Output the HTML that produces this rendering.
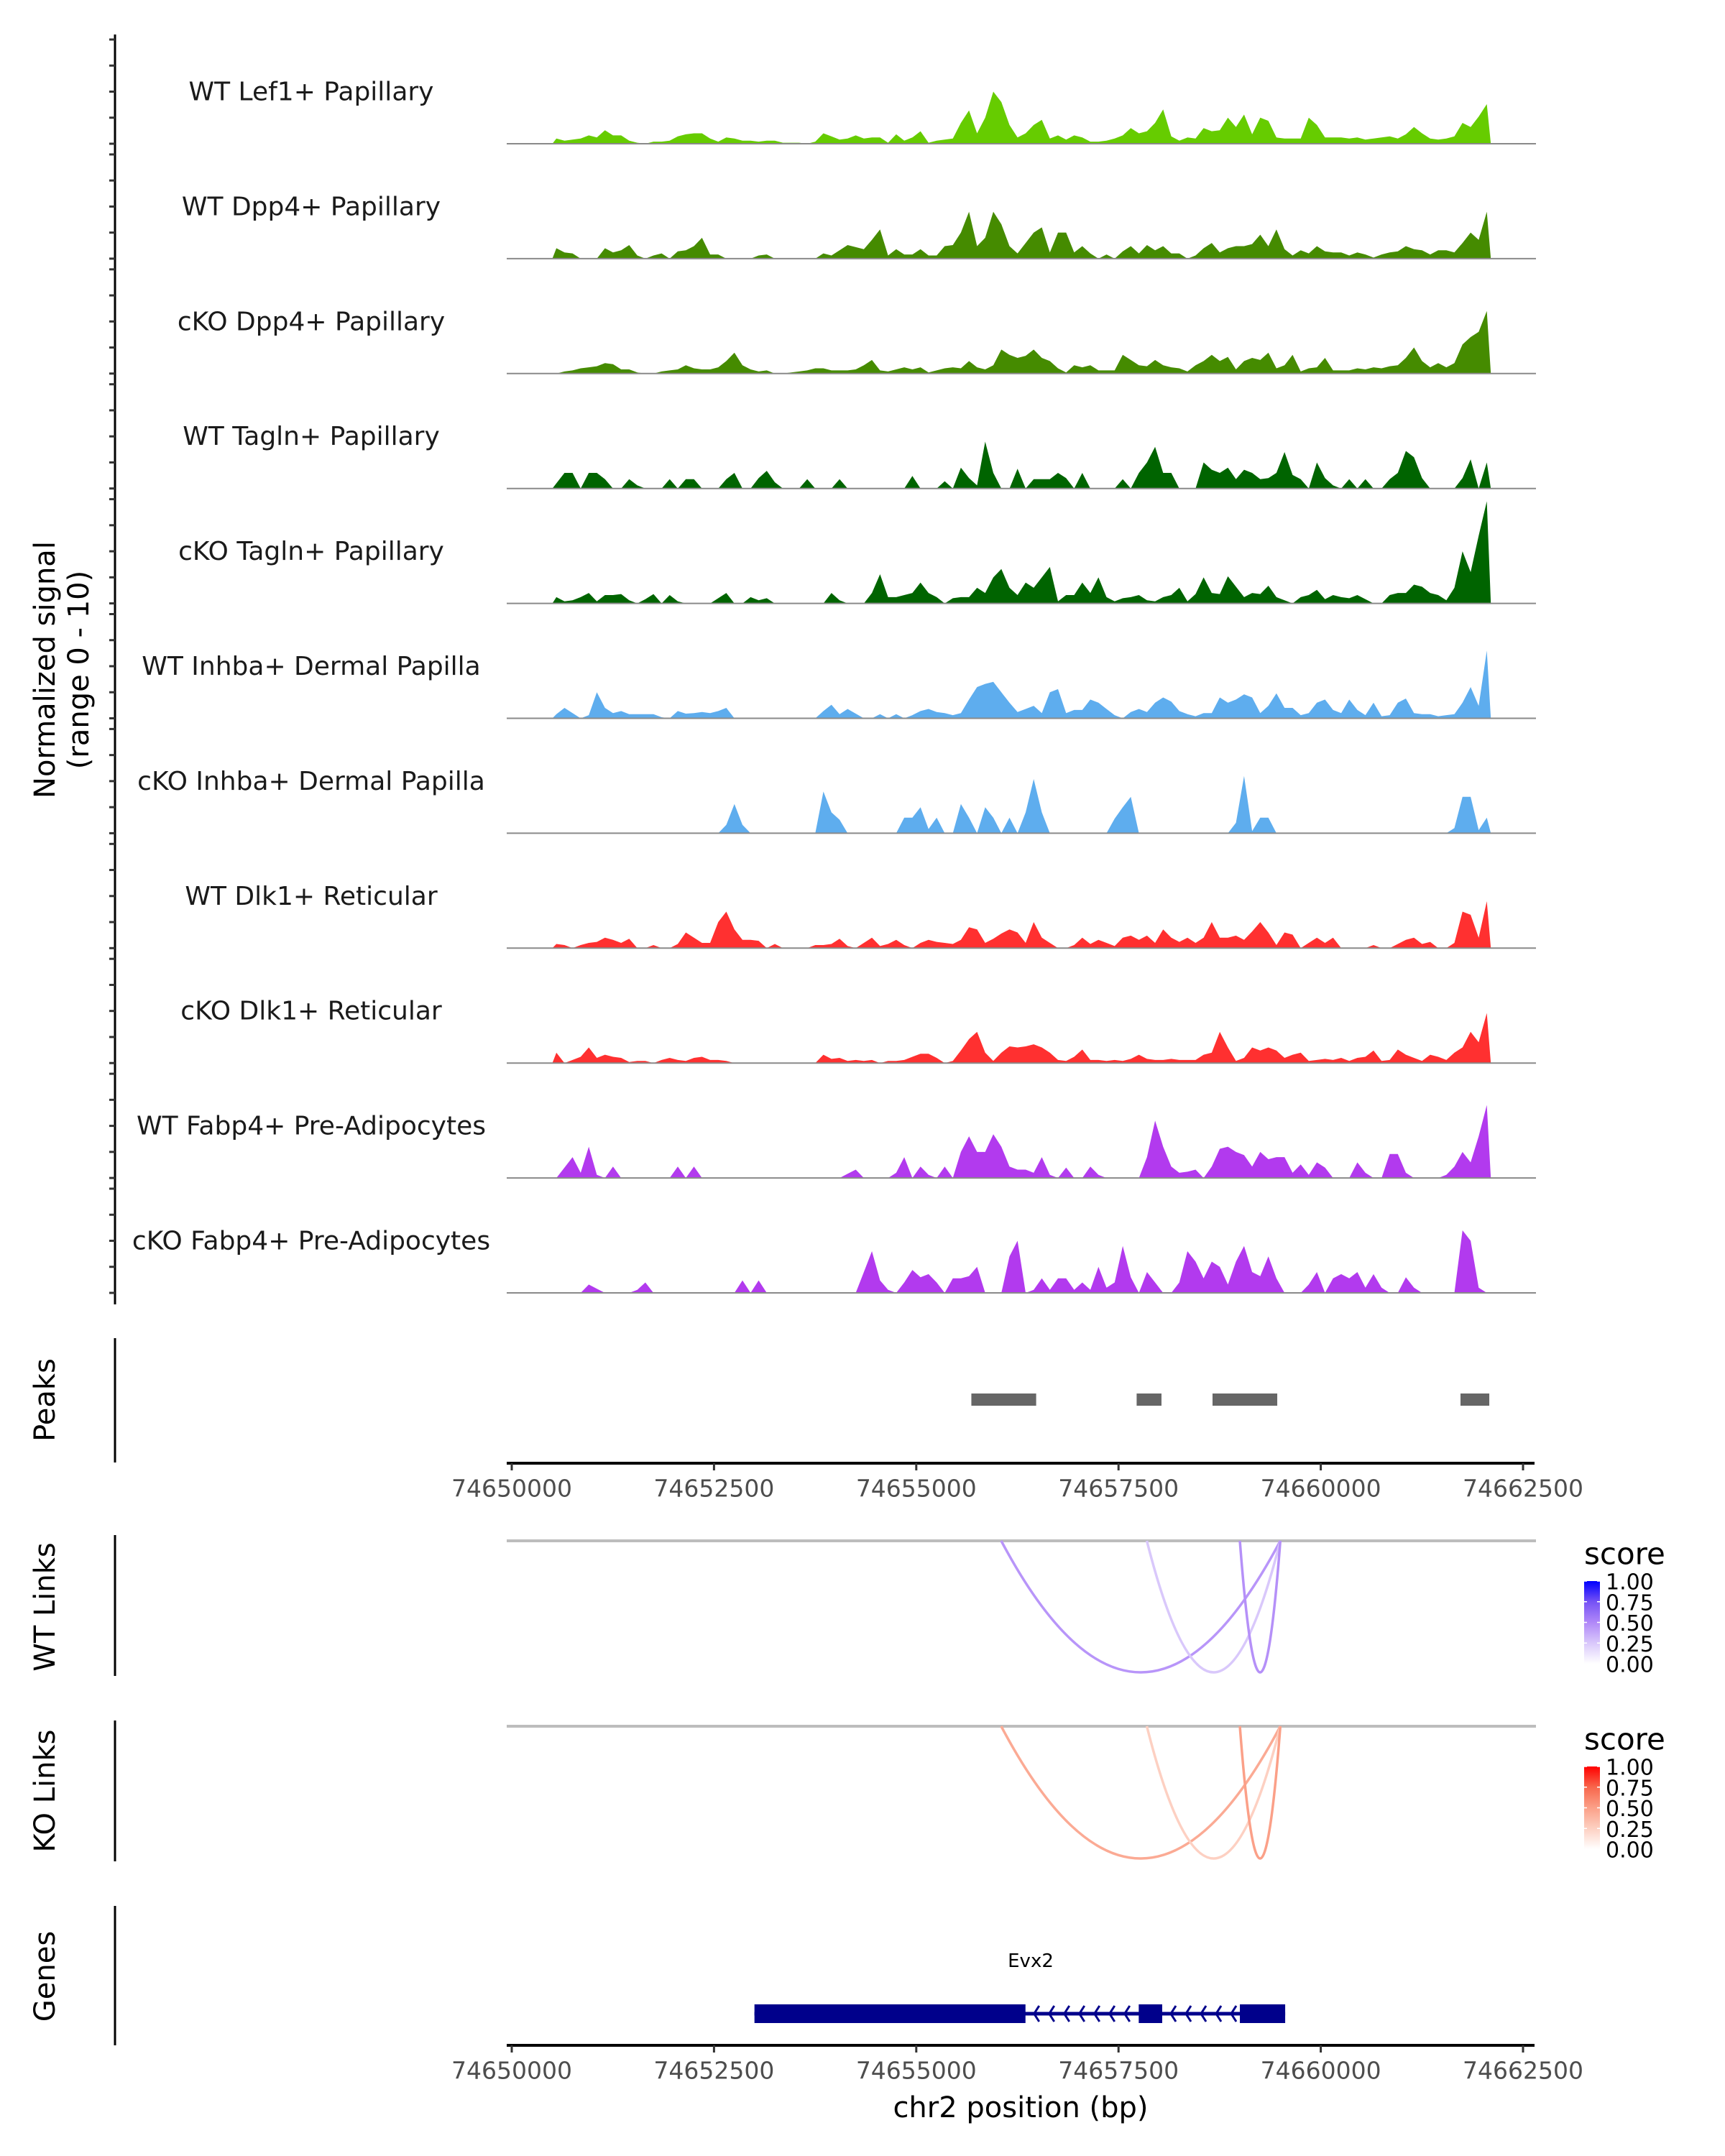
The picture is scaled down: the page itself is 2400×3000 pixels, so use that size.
<!DOCTYPE html>
<html><head><meta charset="utf-8"><style>
html,body{margin:0;padding:0;background:#fff;}
svg{display:block;font-family:"DejaVu Sans","Liberation Sans",sans-serif;}
</style></head><body>
<svg id="chart" width="2400" height="3000" viewBox="0 0 2400 3000" xmlns="http://www.w3.org/2000/svg">
<g id="tracks"></g>
<g id="axes"></g>
<g id="peaks"></g>
<g id="links"></g>
<g id="genes"></g>
<text transform="translate(63,932) rotate(-90)" text-anchor="middle" font-size="40" fill="#000" dominant-baseline="central">Normalized signal</text>
<text transform="translate(110,932) rotate(-90)" text-anchor="middle" font-size="40" fill="#000" dominant-baseline="central">(range 0 - 10)</text>
<text transform="translate(63,1948) rotate(-90)" text-anchor="middle" font-size="40" dominant-baseline="central">Peaks</text>
<text transform="translate(63,2236) rotate(-90)" text-anchor="middle" font-size="40" dominant-baseline="central">WT Links</text>
<text transform="translate(63,2492) rotate(-90)" text-anchor="middle" font-size="40" dominant-baseline="central">KO Links</text>
<text transform="translate(63,2750) rotate(-90)" text-anchor="middle" font-size="40" dominant-baseline="central">Genes</text>
<text x="1420" y="2933" text-anchor="middle" font-size="40" dominant-baseline="central">chr2 position (bp)</text>
</svg>
<script>
const NS = "http://www.w3.org/2000/svg";
const trackNames = ["WT Lef1+ Papillary","WT Dpp4+ Papillary","cKO Dpp4+ Papillary","WT Tagln+ Papillary","cKO Tagln+ Papillary","WT Inhba+ Dermal Papilla","cKO Inhba+ Dermal Papilla","WT Dlk1+ Reticular","cKO Dlk1+ Reticular","WT Fabp4+ Pre-Adipocytes","cKO Fabp4+ Pre-Adipocytes"];
const trackColors = ["#66CC00","#458B00","#458B00","#006400","#006400","#5EADEE","#5EADEE","#FF3030","#FF3030","#B23AEE","#B23AEE"];
const binStart = 74650502;
const binSize = 100;
const lef1WT = [.5,.3,.4,.5,.8,.6,1.3,.8,.8,.3, .1,0,.2,.2,.3,.7,.9,1,1,.5, .2,.6,.5,.3,.3,.2,.3,.3,.1,.1, .1,0,.2,1.0,.7,.4,.5,.8,.5,.6, .6,.1,.9,.3,.6,1.2,.1,.3,.4,.5, 2.0,3.2,1.0,2.5,5.0,4.0,1.8,.6,1.0,1.8, 2.3,.5,.8,.4,.8,.6,.2,.2,.3,.5, .8,1.5,1.0,1.2,2.0,3.3,.7,.3,.6,.5, 1.5,1.2,1.3,2.5,1.6,2.8,.9,2.5,2.2,.6, .5,.5,.5,2.5,1.8,.6,.6,.6,.5,.6, .4,.5,.6,.7,.5,.9,1.6,1.0,.5,.4, .5,.7,2.0,1.6,2.6,3.8];
const dpp4WT = [1.0,.6,.5,0,0,0,1.0,.6,.8,1.3, .3,0,.3,.5,0,.7,.8,1.2,2.0,.4, .4,0,0,0,0,.3,.4,0,0,0, 0,0,0,.5,.3,.8,1.3,1.1,.9,1.8, 2.8,.3,.9,.4,.4,.9,.3,.3,1.2,1.3, 2.5,4.5,1.2,2.0,4.5,3.3,1.2,.5,1.5,2.5, 3.0,.6,2.5,2.5,.6,1.2,.5,0,.4,0, .7,1.2,.5,1.3,.8,1.2,.5,.5,0,.3, 1.0,1.5,.6,1.0,1.2,1.2,1.4,2.3,1.2,2.8, .9,.3,.8,.5,1.2,.7,.6,.6,.3,.6, .4,.1,.4,.6,.7,1.2,.9,.8,.4,.8, .8,.6,1.5,2.5,1.8,4.5];
const dpp4KO = [0,.2,.3,.5,.6,.7,1.0,.9,.4,.4, .1,0,0,.2,.3,.4,.8,.5,.4,.4, .6,1.2,2.0,.8,.4,.2,.3,0,0,.1, .2,.3,.5,.5,.3,.3,.3,.4,.8,1.3, .3,.2,.4,.6,.4,.6,.1,.3,.5,.6, .5,1.2,.6,.4,.8,2.3,1.8,1.5,1.7,2.3, 1.5,1.2,.5,.1,.8,.6,.8,.3,.3,.3, 1.8,1.3,.8,.7,1.3,.8,.6,.5,.2,.8, 1.2,1.8,1.2,1.6,.4,1.2,1.5,1.3,2.0,.5, .8,1.8,.2,.5,.6,1.5,.3,.3,.3,.5, .4,.6,.5,.7,.8,1.5,2.5,1.2,.6,1.0, .6,1.0,2.8,3.5,4.0,6.0];
const taglnWT = [.5,1.5,1.5,0,1.5,1.5,.9,0,0,.9, .3,0,0,0,.9,0,.9,.9,0,0, 0,.9,1.5,0,0,1.0,1.7,.6,0,0, 0,.9,0,0,0,.9,0,0,0,0, 0,0,0,0,1.2,0,0,0,.7,0, 2.0,1.0,.3,4.5,1.5,0,0,1.9,0,.9, .9,.9,1.5,1.0,0,1.5,0,0,0,0, .9,0,1.5,2.5,4.0,1.5,1.5,0,0,0, 2.5,1.8,1.5,2.0,.9,1.8,1.5,.9,1.0,1.5, 3.5,1.3,.9,0,2.5,1.0,.3,0,.9,0, .9,0,0,.9,1.5,3.6,3.0,1.0,0,0, 0,0,1.0,2.8,0,2.5];
const taglnKO = [.6,.2,.3,.6,1.0,.2,.8,.8,.9,.3, 0,.4,.9,0,.8,.2,0,0,0,0, .5,1.0,0,0,.6,.3,.5,0,0,0, 0,0,0,0,1.0,.3,0,0,0,1.0, 2.8,.6,.6,.8,1.0,2.0,1.0,.6,0,.5, .6,.6,1.5,1.0,2.5,3.3,1.5,.8,2.0,1.5, 2.5,3.5,.2,.8,.8,2.0,1.0,2.5,.6,.2, .5,.6,.8,.3,.2,.6,.8,1.5,.2,.9, 2.5,1.0,.9,2.6,1.6,.6,1.0,.9,1.7,.6, .3,0,.6,.8,1.3,.4,.8,.6,.5,.8, .4,0,0,.8,1.0,1.0,1.8,1.6,1.0,.8, .3,1.5,5.0,3.0,6.5,9.8];
const inhbaWT = [.4,1.0,.5,0,.3,2.5,1.0,.5,.7,.4, .4,.4,.4,.1,0,.7,.45,.5,.6,.5, .7,1.0,0,0,0,0,0,0,0,0, 0,0,0,.7,1.3,.4,.9,.45,0,0, .4,0,.4,0,.3,.7,.9,.6,.5,.3, .5,1.8,3.0,3.3,3.5,2.5,1.5,.6,.9,1.2, .5,2.5,2.8,.5,.8,.8,1.8,1.5,.9,.3, 0,.6,.9,.6,1.5,2.0,1.6,.7,.4,.2, .5,.5,2.0,1.5,1.8,2.3,2.0,.5,1.2,2.4, 1.0,1.0,.3,.5,1.5,1.8,.8,.5,1.8,.8, .3,1.5,.2,.3,1.5,1.9,.5,.4,.4,.2, .3,.4,1.5,3.0,1.2,6.5];
const inhbaKO = [0,0,0,0,0,0,0,0,0,0, 0,0,0,0,0,0,0,0,0,0, 0,.8,2.8,.8,0,0,0,0,0,0, 0,0,0,4.0,2.0,1.3,0,0,0,0, 0,0,0,1.5,1.5,2.5,.4,1.5,0,0, 2.8,1.5,0,2.5,1.5,0,1.5,0,2.0,5.2, 2.0,0,0,0,0,0,0,0,0,1.4, 2.5,3.5,0,0,0,0,0,0,0,0, 0,0,0,0,1.0,5.5,.2,1.5,1.5,0, 0,0,0,0,0,0,0,0,0,0, 0,0,0,0,0,0,0,0,0,0, 0,.5,3.5,3.5,.3,1.5];
const dlk1WT = [.4,.3,0,.3,.5,.6,1.0,.8,.5,.9, 0,0,.3,0,0,.4,1.5,1.0,.5,.5, 2.5,3.5,1.8,.8,.8,.7,0,.4,0,0, 0,0,.3,.3,.4,.9,.2,0,.5,1.0, .2,.4,.8,.3,0,.5,.8,.6,.5,.4, .8,2.0,1.8,.5,.9,1.4,1.8,1.5,.5,2.5, 1.0,.5,0,0,.3,1.0,.4,.8,.5,.2, 1.0,1.2,.8,1.2,.5,1.8,1.0,.6,1.0,.5, 1.0,2.5,1.0,1.0,1.2,.8,1.6,2.5,1.5,.3, 1.5,1.3,0,.5,1.0,.5,1.0,0,0,0, 0,.3,0,0,.4,.8,1.0,.4,.6,0, 0,.5,3.5,3.2,1.0,4.5];
const dlk1KO = [1.0,0,.3,.6,1.5,.5,.8,.6,.5,.1, .2,.2,0,.3,.5,.3,.2,.5,.6,.3, .3,.2,0,0,0,0,0,0,0,0, 0,0,0,.8,.4,.5,.2,.3,.2,.3, 0,.2,.2,.3,.6,.9,.9,.5,0,.2, 1.2,2.3,3.0,1.0,.2,1.0,1.6,1.5,1.6,1.8, 1.5,1.0,.3,.2,.6,1.3,.3,.3,.2,.3, .2,.4,.8,.4,.3,.3,.4,.3,.3,.3, .8,1.0,3.0,1.5,.2,.5,1.5,1.2,1.5,1.2, .5,.8,1.0,.2,.3,.4,.3,.5,.2,.5, .6,1.2,.2,.3,1.3,.8,.5,.2,.8,.6, .3,1.0,1.5,3.0,2.0,4.8];
const fabp4WT = [0,1.0,2.0,.5,3.0,.3,0,1.1,0,0, 0,0,0,0,0,1.1,0,1.1,0,0, 0,0,0,0,0,0,0,0,0,0, 0,0,0,0,0,0,.4,.8,0,0, 0,0,.5,2.0,0,1.1,.3,0,1.1,0, 2.5,4.0,2.5,2.5,4.2,3.0,1.1,.8,.8,.5, 2.0,.3,0,1.0,0,0,1.1,.3,0,0, 0,0,0,2.0,5.5,3.0,1.1,.5,.6,.8, 0,1.1,2.8,3.0,2.5,2.2,1.1,2.5,1.8,2.0, 2.0,.5,1.3,.3,1.5,1.0,0,0,0,1.5, .5,0,0,2.3,2.3,.5,0,0,0,0, .3,1.1,2.5,1.5,4.0,7.0];
const fabp4KO = [0,0,0,0,.8,.4,0,0,0,0, .3,1.0,0,0,0,0,0,0,0,0, 0,0,0,1.2,0,1.2,0,0,0,0, 0,0,0,0,0,0,0,0,2.0,4.0, 1.2,.3,0,1.0,2.2,1.5,1.8,1.0,0,1.4, 1.4,1.6,2.5,0,0,0,3.5,5.0,0,.3, 1.4,.3,1.4,1.4,.3,1.0,.3,2.5,.5,1.0, 4.5,1.5,0,2.0,1.0,0,0,1.0,4.0,3.0, 1.4,3.0,2.5,.8,3.0,4.5,2.0,1.6,3.5,1.4, 0,0,0,.8,2.0,0,1.4,1.8,1.4,2.0, .5,1.8,.5,0,0,1.5,.5,0,0,0, 0,0,6.0,5.0,.5,0];
const trackValues = [lef1WT,dpp4WT,dpp4KO,taglnWT,taglnKO,inhbaWT,inhbaKO,dlk1WT,dlk1KO,fabp4WT,fabp4KO];
const xTicks = [74650000,74652500,74655000,74657500,74660000,74662500];
const peakStarts = [74655681,74657724,74658662,74661727];
const peakEnds = [74656482,74658031,74659462,74662083];
const linkStarts = [74656050,74657850,74659000];
const linkEnds = [74659500,74659500,74659500];
const wtLinkScores = [0.45,0.25,0.47];
const koLinkScores = [0.45,0.25,0.5];
const legendTicks = ["1.00","0.75","0.50","0.25","0.00"];
const geneName = "Evx2";
const geneStart = 74653000, geneEnd = 74659560;
const exonStarts = [74653000,74657750,74659000];
const exonEnds = [74656350,74658040,74659560];

function xScale(bp){ return 712 + (bp - 74650000) * 0.11256; }
function trackBase(i){ return 200 + 159.9 * i; }
function yScale(i, v){ return trackBase(i) - v * 14.5; }
function mk(tag, attrs, parent){ const e = document.createElementNS(NS, tag); for (const k in attrs) e.setAttribute(k, attrs[k]); parent.appendChild(e); return e; }

const gT = document.getElementById('tracks');
const gA = document.getElementById('axes');
let ax = mk('line',{x1:160,y1:48,x2:160,y2:1815,stroke:'#000','stroke-width':3},gA);


trackNames.forEach((name,i)=>{
  const base = trackBase(i);
  for (let t=0;t<=4;t++){
    const tk = mk('line',{x1:152,x2:160,y1:base-t*36.25,y2:base-t*36.25,stroke:'#333','stroke-width':3},gA);
    
    
  }
  const vals = trackValues[i];
  let d = 'M' + xScale(binStart).toFixed(1) + ',' + base;
  vals.forEach((v,k)=>{
    const xc = xScale(binStart + (k+0.5)*binSize);
    d += ' L' + xc.toFixed(1) + ',' + yScale(i, v).toFixed(1);
  });
  d += ' L' + xScale(binStart + vals.length*binSize).toFixed(1) + ',' + base + ' Z';
  const area = mk('path',{d:d,fill:trackColors[i]},gT);
  
  
  const bl = mk('line',{x1:705,x2:2137,y1:base,y2:base,stroke:'#8a8a8a','stroke-width':2},gT);
  
  
  const lb = mk('text',{x:433,y:base-72,'text-anchor':'middle','dominant-baseline':'central','font-size':36,fill:'#1a1a1a'},gT);
  lb.textContent = name;
  
  
});

function xAxis(y, name){
  const l = mk('line',{x1:705,x2:2135,y1:y,y2:y,stroke:'#000','stroke-width':4},gA);
  
  
  xTicks.forEach(t=>{
    const x = xScale(t);
    const tk = mk('line',{x1:x,x2:x,y1:y,y2:y+10,stroke:'#333','stroke-width':3},gA);
    
    
    const tx = mk('text',{x:x,y:y+35,'text-anchor':'middle','dominant-baseline':'central','font-size':33,fill:'#4d4d4d'},gA);
    tx.textContent = t;
    
    
  });
}
[[1862,2035,'peaks-axis-line'],[2136,2332,'wt-links-axis-line'],[2394,2590,'ko-links-axis-line'],[2652,2846,'genes-axis-line']].forEach(p=>{
  const l = mk('line',{x1:160,x2:160,y1:p[0],y2:p[1],stroke:'#000','stroke-width':3},gA);
  
  
});
xAxis(2036,'peaks-x-axis');
xAxis(2846,'genes-x-axis');

const gP = document.getElementById('peaks');
peakStarts.forEach((s,i)=>{
  const x0 = xScale(s), x1 = xScale(peakEnds[i]);
  const r = mk('rect',{x:x0,y:1939,width:x1-x0,height:17,fill:'#666'},gP);
  
  
});

const gL = document.getElementById('links');
const blueStops = [[255,255,255],[217,200,251],[176,136,248],[117,82,245],[0,0,255]];
const redStops = [[255,255,255],[253,208,194],[251,160,136],[248,102,76],[255,0,0]];
function scaleColor(stops, s){
  const p = Math.max(0,Math.min(1,s))*4; const i = Math.min(3,Math.floor(p)); const f = p - i;
  const a = stops[i], b = stops[i+1];
  return 'rgb(' + a.map((v,k)=>Math.round(v + (b[k]-v)*f)).join(',') + ')';
}
function linkPanel(base, bottom, scores, stops, gradId, name){
  const bl = mk('line',{x1:705,x2:2137,y1:base,y2:base,stroke:'#bdbdbd','stroke-width':4},gL);
  
  
  linkStarts.forEach((s,i)=>{
    const x0 = xScale(s), x1 = xScale(linkEnds[i]);
    const cy = base + 2*(bottom-base);
    const p = mk('path',{d:'M'+x0+','+base+' Q'+((x0+x1)/2)+','+cy+' '+x1+','+base,fill:'none',stroke:scaleColor(stops,scores[i]),'stroke-width':3.5},gL);
    
    
  });
  const top = base + 56;
  const st = mk('text',{x:2204,y:top-38,'font-size':42,fill:'#000','dominant-baseline':'central'},gL);
  st.textContent = 'score';
  
  
  const defs = mk('defs',{},gL);
  const lg = mk('linearGradient',{id:gradId,x1:0,y1:0,x2:0,y2:1},defs);
  for (let k=0;k<5;k++) mk('stop',{offset:String(k/4),"stop-color":scaleColor(stops,1-k/4)},lg);
  const bar = mk('rect',{x:2204,y:top,width:22,height:115,fill:'url(#'+gradId+')'},gL);
  
  
  legendTicks.forEach((t,k)=>{
    const y = top + k*28.75;
    mk('line',{x1:2204,x2:2208,y1:y,y2:y,stroke:'#fff','stroke-width':1.5},gL);
    mk('line',{x1:2222,x2:2226,y1:y,y2:y,stroke:'#fff','stroke-width':1.5},gL);
    const tx = mk('text',{x:2234,y:y+2,'font-size':30,fill:'#000','dominant-baseline':'central'},gL);
    tx.textContent = t;
    
    
  });
}
linkPanel(2144,2327,wtLinkScores,blueStops,'gradWT','wt-links');
linkPanel(2402,2586,koLinkScores,redStops,'gradKO','ko-links');

const gG = document.getElementById('genes');
const gy = 2802;
const gl = mk('line',{x1:xScale(geneStart),x2:xScale(geneEnd),y1:gy,y2:gy,stroke:'#00008B','stroke-width':5},gG);


exonStarts.forEach((s,i)=>{
  const x0 = xScale(s), x1 = xScale(exonEnds[i]);
  const r = mk('rect',{x:x0,y:gy-13,width:x1-x0,height:26,fill:'#00008B'},gG);
  
  
});
for (let i=0;i<exonStarts.length-1;i++){
  const a = xScale(exonEnds[i]) + 12, b = xScale(exonStarts[i+1]) - 6;
  for (let x=a; x<b; x+=21){
    const c = mk('path',{d:'M'+(x+7)+','+(gy-11)+' L'+x+','+gy+' L'+(x+7)+','+(gy+11),fill:'none',stroke:'#00008B','stroke-width':3},gG);
    
    
  }
}
const gn = mk('text',{x:1434,y:2729,'text-anchor':'middle','dominant-baseline':'central','font-size':26,fill:'#000'},gG);
gn.textContent = geneName;


</script>
</body></html>
